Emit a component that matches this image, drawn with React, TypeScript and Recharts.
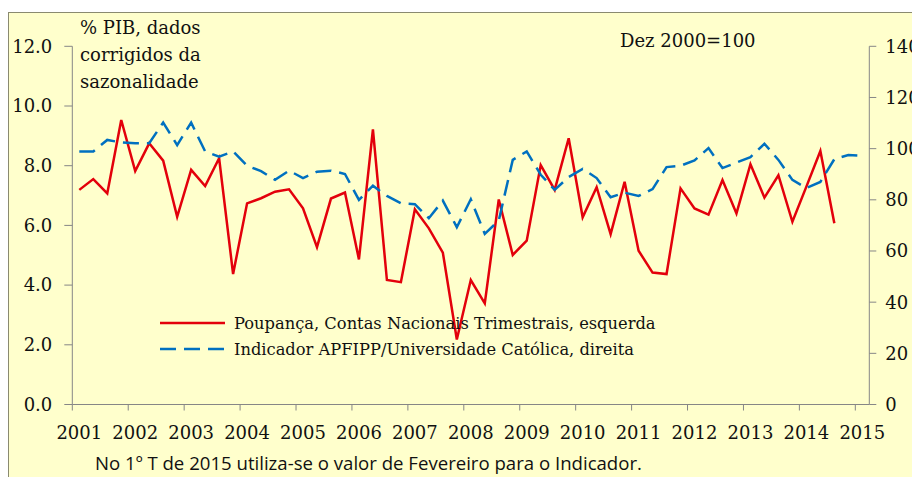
import React from "react"
import { LineChart, Line, XAxis, YAxis, Legend } from "recharts"

const years = ["2001", "2002", "2003", "2004", "2005", "2006", "2007", "2008", "2009", "2010", "2011", "2012", "2013", "2014", "2015"]
const quarters = years.flatMap((y) => ["T1", "T2", "T3", "T4"].map((q) => `${y} ${q}`)).slice(0, 57)

// % PIB, dados corrigidos da sazonalidade (eixo esquerdo)
const poupanca = [
  7.19, 7.55, 7.07, 9.53, 7.82, 8.75, 8.17, 6.29, 7.86, 7.32, 8.25, 4.37, 6.74, 6.91, 7.13, 7.21,
  6.57, 5.27, 6.9, 7.1, 4.86, 9.22, 4.17, 4.1, 6.54, 5.9, 5.09, 2.18, 4.17, 3.39, 6.87, 5.01,
  5.49, 8.02, 7.19, 8.92, 6.27, 7.28, 5.71, 7.46, 5.15, 4.42, 4.37, 7.24, 6.57, 6.36, 7.52, 6.4,
  8.05, 6.93, 7.68, 6.12, 7.3, 8.49, 6.07,
]

// Dez 2000=100 (eixo direito)
const indicador = [
  98.9, 98.9, 103.4, 102.4, 102.1, 102.1, 110.2, 101.4, 110.2, 98.9, 96.9, 98.9, 93.3, 91.2, 87.8, 91.4,
  88.5, 91.0, 91.4, 90.1, 80.0, 85.5, 81.5, 78.7, 78.3, 72.8, 79.7, 69.3, 80.2, 66.7, 71.9, 95.6,
  98.9, 89.8, 83.9, 88.9, 92.1, 88.5, 81.0, 82.8, 81.5, 84.2, 92.8, 93.3, 95.4, 100.2, 92.4, 94.6,
  96.7, 101.9, 95.6, 87.8, 84.6, 87.0, 95.9, 97.5, 97.2,
]

const leftTicks = [0, 2, 4, 6, 8, 10, 12]
const rightTicks = [0, 20, 40, 60, 80, 100, 120, 140]

const data = quarters.map((q, i) => ({
  q,
  poupanca: i < poupanca.length ? poupanca[i] : null,
  indicador: indicador[i],
}))

const RED = "#E3000B"
const BLUE = "#0070C0"
const AXIS = "#868686"
const SERIF = "DejaVu Serif, serif"
const PLOT_W = 797
const STEP = PLOT_W / quarters.length

function YearTick(props: any) {
  const { x, y, payload } = props
  const bx = x - STEP / 2
  return (
    <g>
      <line x1={bx} x2={bx} y1={y - 8} y2={y - 2} stroke={AXIS} />
      <text x={x} y={y + 26} textAnchor="middle" style={{ fontFamily: SERIF, fontSize: 18 }} fill="#111">
        {String(payload.value).slice(0, 4)}
      </text>
    </g>
  )
}

function LegendBox() {
  const rows = [
    { color: RED, dash: undefined, label: "Poupança, Contas Nacionais Trimestrais, esquerda" },
    { color: BLUE, dash: "16 8", label: "Indicador APFIPP/Universidade Católica, direita" },
  ]
  return (
    <div style={{ fontFamily: SERIF, fontSize: 16.3, color: "#111" }}>
      {rows.map((r) => (
        <div key={r.label} style={{ display: "flex", alignItems: "center", height: 26, whiteSpace: "nowrap" }}>
          <svg width={68} height={12}>
            <line x1={2} x2={67} y1={6} y2={6} stroke={r.color} strokeWidth={2.5} strokeDasharray={r.dash} />
          </svg>
          <span style={{ marginLeft: 8 }}>{r.label}</span>
        </div>
      ))}
    </div>
  )
}

export default function App() {
  return (
    <div style={{ position: "relative", width: 912, height: 469, fontFamily: SERIF }}>
      <div
        style={{
          position: "absolute",
          left: 0,
          top: 4,
          right: 0,
          bottom: 0,
          background: "#FFFFCC",
          borderLeft: "1px solid #8a8a70",
          borderTop: "1px solid #8a8a70",
        }}
      />
      <div style={{ position: "absolute", left: 0, top: 0 }}>
        <LineChart width={912} height={469} data={data} margin={{ top: 38.3, right: 0.7, left: 4.3, bottom: 42.5 }}>
          <XAxis
            dataKey="q"
            interval={3}
            height={30}
            padding={{ left: STEP / 2, right: STEP / 2 }}
            stroke={AXIS}
            tickLine={false}
            tickSize={6}
            tickMargin={2}
            tick={<YearTick />}
          />
          <YAxis
            yAxisId="left"
            width={60}
            domain={[0, 12]}
            ticks={leftTicks}
            tickFormatter={(v: number) => v.toFixed(1)}
            stroke={AXIS}
            tickSize={8}
            tickMargin={12}
            tick={{ fill: "#111", style: { fontFamily: SERIF, fontSize: 18 } }}
          />
          <YAxis
            yAxisId="right"
            orientation="right"
            width={50}
            domain={[0, 140]}
            ticks={rightTicks}
            stroke={AXIS}
            tickSize={7}
            tickMargin={9}
            tick={{ fill: "#111", textAnchor: "start", style: { fontFamily: SERIF, fontSize: 18 } }}
          />
          <Legend
            layout="horizontal"
            align="center"
            verticalAlign="middle"
            content={() => <LegendBox />}
            wrapperStyle={{ position: "absolute", left: 150, top: 302, width: 520, height: 52 }}
          />
          <Line
            yAxisId="left"
            dataKey="poupanca"
            stroke={RED}
            strokeWidth={2.5}
            dot={false}
            isAnimationActive={false}
            connectNulls={false}
          />
          <Line
            yAxisId="right"
            dataKey="indicador"
            stroke={BLUE}
            strokeWidth={2.5}
            strokeDasharray="16 8"
            dot={false}
            isAnimationActive={false}
          />
        </LineChart>
      </div>
      <div
        style={{
          position: "absolute",
          left: 72,
          top: 6,
          fontSize: 18,
          lineHeight: "27px",
          color: "#111",
          pointerEvents: "none",
        }}
      >
        % PIB, dados
        <br />
        corrigidos da
        <br />
        sazonalidade
      </div>
      <div style={{ position: "absolute", left: 612, top: 22, fontSize: 18, color: "#111" }}>
        Dez 2000=100
      </div>
      <div
        style={{
          position: "absolute",
          left: 87,
          top: 444,
          fontFamily: "Open Sans, sans-serif",
          fontSize: 18.6,
          lineHeight: "22px",
          color: "#111",
          whiteSpace: "nowrap",
        }}
      >
        No 1º T de 2015 utiliza-se o valor de Fevereiro para o Indicador.
      </div>
    </div>
  )
}
